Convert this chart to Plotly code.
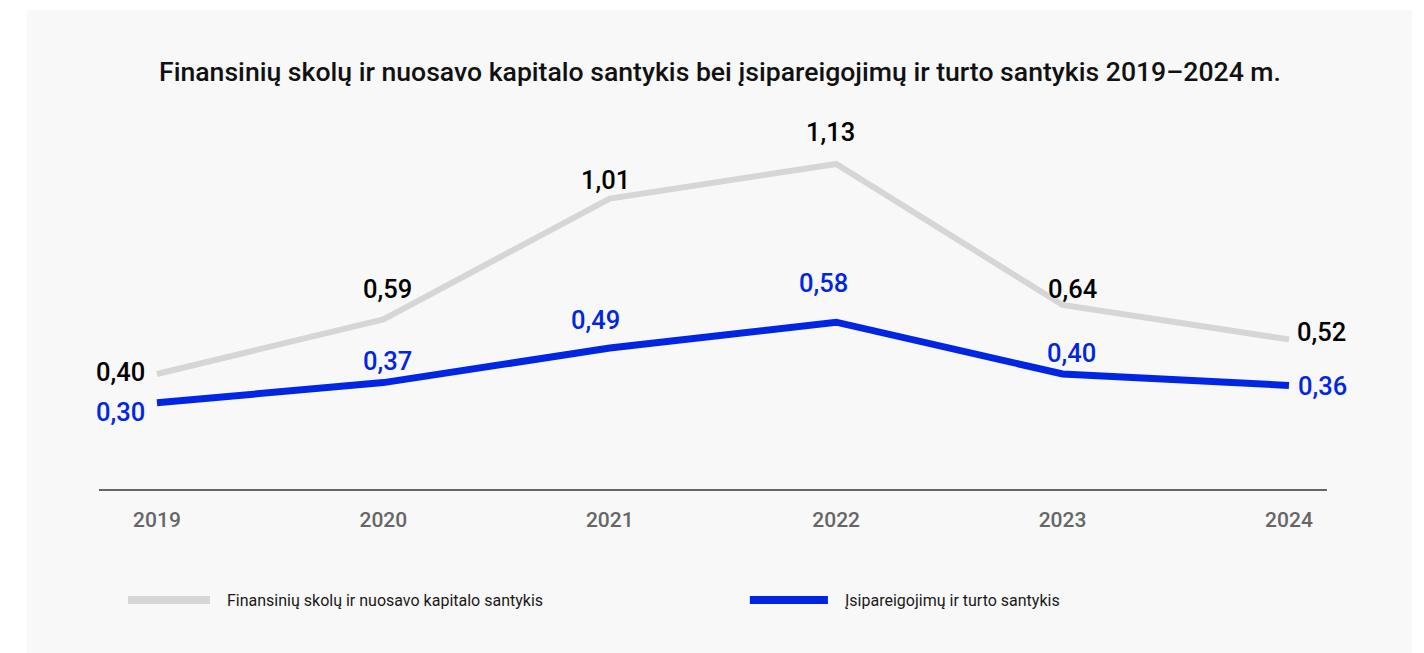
import plotly.graph_objects as go

# data
years = ["2019", "2020", "2021", "2022", "2023", "2024"]
debt_equity = [0.40, 0.59, 1.01, 1.13, 0.64, 0.52]
liab_assets = [0.30, 0.37, 0.49, 0.58, 0.40, 0.36]
debt_equity_labels = ["0,40", "0,59", "1,01", "1,13", "0,64", "0,52"]
liab_assets_labels = ["0,30", "0,37", "0,49", "0,58", "0,40", "0,36"]
series_names = ["Finansinių skolų ir nuosavo kapitalo santykis",
                "Įsipareigojimų ir turto santykis"]

GREY = "#d6d6d6"
BLUE = "#0026e4"
FONT = "Roboto"

# label offsets (px) for each point
grey_shift = [(-36, 2), (4, 30), (-4, 19), (-6, 32), (10, 16), (33, 7)]
blue_shift = [(-36, -9), (4, 22), (-14, 28), (-13, 39), (9, 21), (34, -1)]

fig = go.Figure()

fig.add_trace(go.Scatter(
    x=years, y=debt_equity, mode="lines", name=series_names[0],
    line=dict(color=GREY, width=6), hoverinfo="skip", showlegend=False
))
fig.add_trace(go.Scatter(
    x=years, y=liab_assets, mode="lines", name=series_names[1],
    line=dict(color=BLUE, width=7), hoverinfo="skip", showlegend=False
))

# value labels (category axis -> position by index)
for vals, labs, shifts, col in [(debt_equity, debt_equity_labels, grey_shift, "#000000"),
                                (liab_assets, liab_assets_labels, blue_shift, BLUE)]:
    for i, (v, t, (dx, dy)) in enumerate(zip(vals, labs, shifts)):
        fig.add_annotation(
            x=i, y=v, text=t, showarrow=False,
            xshift=dx, yshift=dy,
            font=dict(family=FONT, size=25.5, color=col, weight=500)
        )

# grey panel behind everything
fig.add_shape(
    type="rect", xref="paper", yref="paper",
    x0=-0.0586, x1=1.0692, y0=-0.4444, y1=1.298,
    fillcolor="#f8f8f8", line=dict(width=0), layer="below"
)

# custom legend (wide swatches)
legend_items = [(0.0236, 0.0904, 0.1026, GREY), (0.530, 0.5936, 0.6059, BLUE)]
for (x0, x1, xt, col), name in zip(legend_items, series_names):
    fig.add_shape(
        type="line", xref="paper", yref="paper",
        x0=x0, x1=x1, y0=-0.301, y1=-0.301,
        line=dict(color=col, width=8)
    )
    fig.add_annotation(
        xref="paper", yref="paper", x=xt, y=-0.301,
        xanchor="left", yanchor="middle", showarrow=False,
        text=name, font=dict(family=FONT, size=16, color="#1a1a1a")
    )

fig.update_layout(
    width=1424, height=653,
    margin=dict(l=91, r=105, t=112, b=172),
    paper_bgcolor="white",
    plot_bgcolor="rgba(0,0,0,0)",
    showlegend=False,
    title=dict(
        text="Finansinių skolų ir nuosavo kapitalo santykis bei įsipareigojimų ir turto santykis 2019–2024 m.",
        x=0.5, xanchor="center", y=1 - 64 / 653, yanchor="middle",
        font=dict(family=FONT, size=26.6, color="#111111", weight=500)
    ),
    xaxis=dict(
        type="category", range=[-0.256, 5.168],
        showgrid=False, zeroline=False,
        showline=True, linecolor="#666666", linewidth=2,
        ticks="outside", ticklen=11, tickcolor="rgba(0,0,0,0)",
        tickfont=dict(family=FONT, size=21, color="#666666", weight=500)
    ),
    yaxis=dict(
        range=[0, 1.283], showgrid=False, zeroline=False,
        showticklabels=False, showline=False
    ),
    hovermode=False
)

fig.write_html("out.html")
